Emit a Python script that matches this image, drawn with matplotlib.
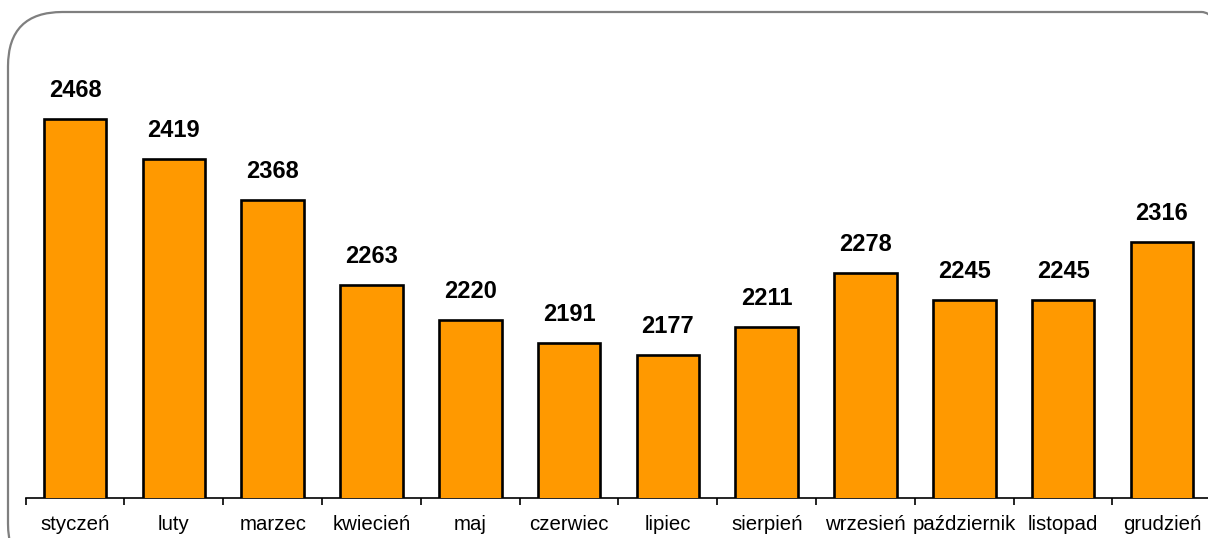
import matplotlib
matplotlib.use("Agg")
import matplotlib.pyplot as plt
from matplotlib.patches import FancyBboxPatch

# Monthly values
months = ["styczeń", "luty", "marzec", "kwiecień", "maj", "czerwiec",
          "lipiec", "sierpień", "wrzesień", "październik", "listopad", "grudzień"]
values = [2468, 2419, 2368, 2263, 2220, 2191, 2177, 2211, 2278, 2245, 2245, 2316]

plt.rcParams['font.family'] = ['Liberation Sans', 'DejaVu Sans']

W, H = 1208, 538
fig = plt.figure(figsize=(W / 100, H / 100), dpi=100)

# rounded frame around the chart (runs off the right and bottom edges)
frame = FancyBboxPatch((8 / W, -40 / H), (W + 40) / W, (H - 12 + 40) / H,
                       boxstyle="round,pad=0,rounding_size=0.045",
                       transform=fig.transFigure, facecolor='none',
                       edgecolor='#7f7f7f', linewidth=1.6, mutation_aspect=W / H)
fig.patches.append(frame)

ax = fig.add_axes([25.7 / W, 40 / H, 12 * 98.8 / W, 485.5 / H])
x = list(range(len(months)))
ax.bar(x, values, width=0.635, bottom=0, color='#FF9900',
       edgecolor='black', linewidth=1.9, zorder=3)
ax.set_ylim(2000, 2600)
ax.set_xlim(-0.5, len(months) - 0.5)

for xi, v in zip(x, values):
    ax.annotate(str(v), (xi, v), xytext=(0, 22), textcoords='offset pixels',
                ha='center', va='baseline', fontsize=17, fontweight='bold')

for s in ['left', 'right', 'top']:
    ax.spines[s].set_visible(False)
ax.spines['bottom'].set_linewidth(1.2)
ax.set_yticks([])
ax.set_xticks([i - 0.5 for i in range(len(months) + 1)])
ax.set_xticklabels([])
ax.tick_params(axis='x', which='major', direction='out', length=5, width=1.2)
ax.set_xticks(x, minor=True)
ax.set_xticklabels(months, minor=True, fontsize=14.7)
ax.tick_params(axis='x', which='minor', length=0, pad=12)
ax.patch.set_alpha(0)

fig.savefig("out.png", dpi=100)
